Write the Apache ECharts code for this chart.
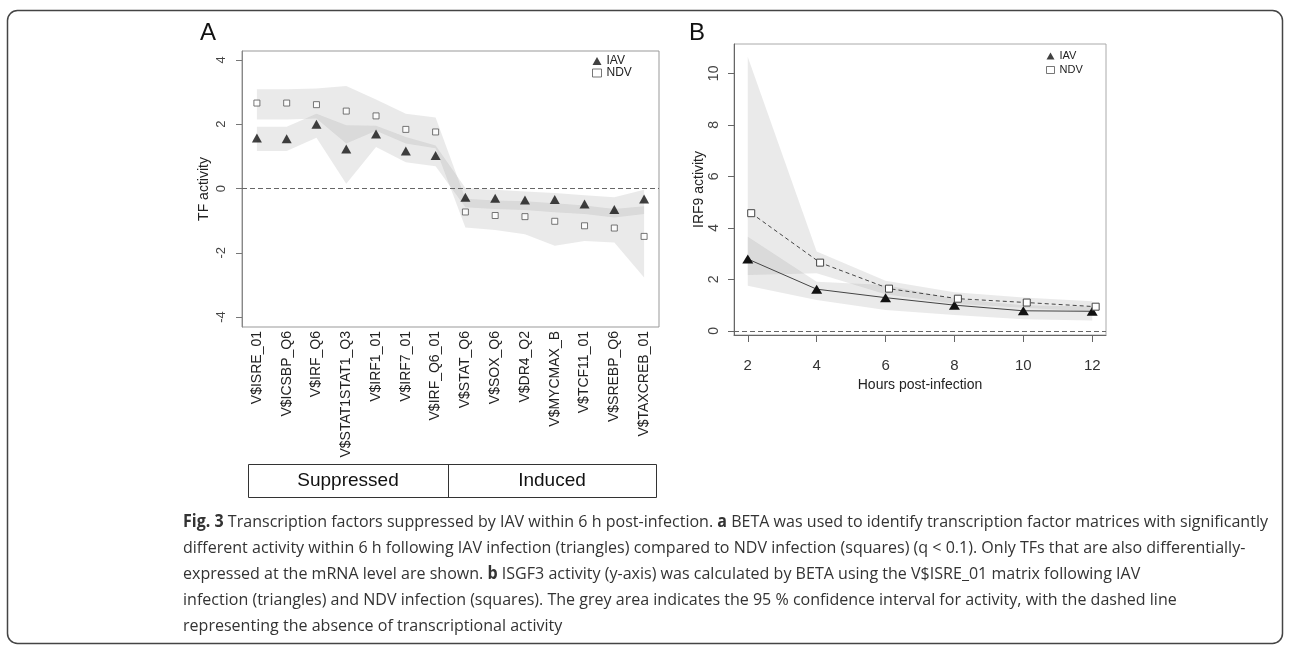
<!DOCTYPE html>
<html>
<head>
<meta charset="utf-8">
<script src="https://cdn.jsdelivr.net/npm/echarts@6/dist/echarts.min.js"></script>
<style>
html, body { margin: 0; padding: 0; background: #fff; }
#main { width: 1290px; height: 647px; }
</style>
</head>
<body>
<div id="main"></div>
<script>
// panel A: TF activity per matrix
var tfNames = ['V$ISRE_01', 'V$ICSBP_Q6', 'V$IRF_Q6', 'V$STAT1STAT1_Q3', 'V$IRF1_01', 'V$IRF7_01', 'V$IRF_Q6_01',
  'V$STAT_Q6', 'V$SOX_Q6', 'V$DR4_Q2', 'V$MYCMAX_B', 'V$TCF11_01', 'V$SREBP_Q6', 'V$TAXCREB_01']
var iavA = [1.57, 1.55, 2.0, 1.23, 1.70, 1.17, 1.03, -0.27, -0.30, -0.36, -0.34, -0.48, -0.65, -0.33]
var ndvA = [2.66, 2.66, 2.61, 2.41, 2.26, 1.84, 1.76, -0.73, -0.84, -0.875, -1.02, -1.16, -1.23, -1.49]
var iavAHigh = [1.92, 1.92, 2.33, 1.97, 1.95, 1.60, 1.34, 0.02, -0.04, -0.09, -0.14, -0.21, -0.27, -0.04]
var iavALow = [1.17, 1.17, 1.58, 0.15, 1.29, 0.82, 0.69, -0.58, -0.64, -0.67, -0.74, -0.79, -0.90, -0.79]
var ndvAHigh = [3.09, 3.09, 3.11, 3.19, 2.77, 2.33, 2.21, -0.32, -0.375, -0.40, -0.46, -0.53, -0.64, -0.55]
var ndvALow = [2.15, 2.15, 2.18, 1.40, 1.80, 1.40, 1.25, -1.21, -1.29, -1.42, -1.78, -1.63, -1.68, -2.77]
var tickA = [-4, -2, 0, 2, 4]

// panel B: IRF9 activity over time
var hours = [2, 4, 6, 8, 10, 12]
var iavB = [2.79, 1.62, 1.29, 1.00, 0.78, 0.76]
var ndvB = [4.57, 2.65, 1.64, 1.25, 1.10, 0.94]
var iavBHigh = [3.66, 1.91, 1.78, 1.25, 1.00, 0.95]
var iavBLow = [1.75, 1.20, 0.81, 0.62, 0.45, 0.40]
var ndvBHigh = [10.64, 3.08, 1.95, 1.50, 1.30, 1.15]
var ndvBLow = [2.17, 2.24, 1.42, 1.05, 0.90, 0.75]
var ndvShift = 0.1 // NDV points drawn slightly right of the hour
var tickBx = [2, 4, 6, 8, 10, 12]
var tickBy = [0, 2, 4, 6, 8, 10]

var captionLines = [
  '{b|Fig. 3} Transcription factors suppressed by IAV within 6 h post-infection. {b|a} BETA was used to identify transcription factor matrices with significantly',
  'different activity within 6 h following IAV infection (triangles) compared to NDV infection (squares) (q < 0.1). Only TFs that are also differentially-',
  'expressed at the mRNA level are shown. {b|b} ISGF3 activity (y-axis) was calculated by BETA using the V$ISRE_01 matrix following IAV',
  'infection (triangles) and NDV infection (squares). The grey area indicates the 95 % confidence interval for activity, with the dashed line',
  'representing the absence of transcriptional activity'
]

var FONT = 'Liberation Sans, Arial, sans-serif'
var CAP_FONT = 'Open Sans, Noto Sans, sans-serif'
var bandColor = 'rgba(150,150,150,0.2)'

function pairs (xs, ys, shift) {
  return xs.map(function (x, i) { return [x + (shift || 0), ys[i]] })
}

// confidence band as one polygon, drawn through the axis scales
function band (xi, yi, xs, lo, hi) {
  return {
    type: 'custom', xAxisIndex: xi, yAxisIndex: yi, silent: true, z: 1,
    data: xs.map(function (x, i) { return [x, lo[i], hi[i]] }),
    encode: { x: 0, y: [1, 2] },
    renderItem: function (params, api) {
      if (params.dataIndex !== 0) return null
      var pts = []
      for (var i = 0; i < xs.length; i++) pts.push(api.coord([xs[i], hi[i]]))
      for (var j = xs.length - 1; j >= 0; j--) pts.push(api.coord([xs[j], lo[j]]))
      return { type: 'polygon', shape: { points: pts }, style: { fill: bandColor } }
    }
  }
}

// fit the caption width like the original (condensed face)
function captionScale () {
  var ctx = document.createElement('canvas').getContext('2d')
  var parts = captionLines[0].split(/(\{b\|[^}]*\})/)
  var w = 0
  parts.forEach(function (p) {
    var m = p.match(/^\{b\|([^}]*)\}$/)
    ctx.font = (m ? 'bold ' : '') + '17px ' + CAP_FONT
    w += ctx.measureText(m ? m[1] : p).width
  })
  return 1085 / w
}

var chart = echarts.init(document.getElementById('main'))
var capScale = captionScale()
var idx = tfNames.map(function (n, i) { return i })

var graphics = [
  { type: 'rect', shape: { x: 7.5, y: 10.5, width: 1275, height: 633, r: 10 }, style: { fill: 'none', stroke: '#444', lineWidth: 1.5 }, z: 0 },
  { type: 'text', x: 208, y: 33, style: { text: 'A', font: '24px ' + FONT, fill: '#111', textAlign: 'center', textVerticalAlign: 'middle' } },
  { type: 'text', x: 697, y: 33, style: { text: 'B', font: '24px ' + FONT, fill: '#111', textAlign: 'center', textVerticalAlign: 'middle' } },
  { type: 'rect', shape: { x: 248.5, y: 464.5, width: 408, height: 33 }, style: { fill: 'none', stroke: '#333', lineWidth: 1 } },
  { type: 'line', shape: { x1: 448.5, y1: 464.5, x2: 448.5, y2: 497.5 }, style: { stroke: '#333', lineWidth: 1 } },
  { type: 'text', x: 348, y: 481, style: { text: 'Suppressed', font: '19px ' + FONT, fill: '#111', textAlign: 'center', textVerticalAlign: 'middle' } },
  { type: 'text', x: 552, y: 481, style: { text: 'Induced', font: '19px ' + FONT, fill: '#111', textAlign: 'center', textVerticalAlign: 'middle' } }
]
captionLines.forEach(function (t, i) {
  graphics.push({
    type: 'text', x: 183, y: 522 + i * 26, scaleX: capScale,
    style: {
      text: t, font: '17px ' + CAP_FONT, fill: '#333', textAlign: 'left', textVerticalAlign: 'middle',
      rich: { b: { fontWeight: 'bold', fontSize: 17, fontFamily: CAP_FONT, fill: '#333' } }
    }
  })
})

var zeroLine = {
  silent: true, symbol: 'none', label: { show: false },
  lineStyle: { type: [5, 3], color: '#666', width: 1 },
  data: [{ yAxis: 0 }]
}

var series = [
  band(0, 0, idx, ndvALow, ndvAHigh),
  band(0, 0, idx, iavALow, iavAHigh),
  band(1, 1, hours, ndvBLow, ndvBHigh),
  band(1, 1, hours, iavBLow, iavBHigh),
  {
    type: 'scatter', name: 'IAV', xAxisIndex: 0, yAxisIndex: 0, data: iavA,
    symbol: 'triangle', symbolSize: [10, 9], itemStyle: { color: '#111' }, z: 3, markLine: zeroLine
  },
  {
    type: 'scatter', name: 'NDV', xAxisIndex: 0, yAxisIndex: 0, data: ndvA,
    symbol: 'rect', symbolSize: 6, itemStyle: { color: '#fff', borderColor: '#555', borderWidth: 1 }, z: 3
  },
  {
    type: 'line', name: 'IAV', xAxisIndex: 1, yAxisIndex: 1, data: pairs(hours, iavB),
    symbol: 'triangle', symbolSize: [11, 9], itemStyle: { color: '#111' },
    lineStyle: { color: '#444', width: 1 }, z: 3, markLine: zeroLine
  },
  {
    type: 'line', name: 'NDV', xAxisIndex: 1, yAxisIndex: 1, data: pairs(hours, ndvB, ndvShift),
    symbol: 'rect', symbolSize: 7, itemStyle: { color: '#fff', borderColor: '#444', borderWidth: 1 },
    lineStyle: { color: '#444', width: 1, type: [4, 3] }, z: 3
  }
]

var legendData = [
  { name: 'IAV', icon: 'triangle', itemStyle: { color: '#111', borderWidth: 0 } },
  { name: 'NDV', icon: 'rect', itemStyle: { color: '#fff', borderColor: '#555', borderWidth: 1 } }
]

var option = {
  animation: false,
  textStyle: { fontFamily: FONT },
  graphic: graphics,
  legend: [
    {
      left: 592, top: 55, orient: 'vertical', padding: 0, itemGap: 0, itemWidth: 9, itemHeight: 8,
      selectedMode: false, data: legendData, textStyle: { fontSize: 12, lineHeight: 12, color: '#222' }
    },
    {
      left: 1046, top: 50, orient: 'vertical', padding: 0, itemGap: 2, itemWidth: 8, itemHeight: 7,
      selectedMode: false, data: legendData, textStyle: { fontSize: 11, lineHeight: 12, color: '#222' }
    }
  ],
  grid: [
    { left: 242, top: 51, width: 417, height: 276, show: true, borderColor: '#999', borderWidth: 1, backgroundColor: 'transparent' },
    { left: 734, top: 44, width: 372, height: 291, show: true, borderColor: '#aaa', borderWidth: 1, backgroundColor: 'transparent' }
  ],
  xAxis: [
    {
      gridIndex: 0, type: 'category', data: tfNames, boundaryGap: true,
      axisLine: { show: false }, axisTick: { show: false }, splitLine: { show: false },
      axisLabel: { interval: 0, rotate: 90, margin: 4, fontSize: 14, color: '#222' }
    },
    {
      gridIndex: 1, type: 'value', min: 1.6, max: 12.4, splitLine: { show: false },
      axisLine: { show: true, onZero: false, lineStyle: { color: '#666' } },
      axisTick: { show: true, length: 7, customValues: tickBx, lineStyle: { color: '#666' } },
      axisLabel: { customValues: tickBx, margin: 23, fontSize: 15, color: '#333' },
      name: 'Hours post-infection', nameLocation: 'middle', nameGap: 43,
      nameTextStyle: { fontSize: 14, color: '#222' }
    }
  ],
  yAxis: [
    {
      gridIndex: 0, type: 'value', min: -4.31, max: 4.28, splitLine: { show: false },
      axisLine: { show: true, lineStyle: { color: '#888' } },
      axisTick: { show: true, length: 6, customValues: tickA, lineStyle: { color: '#777' } },
      axisLabel: { customValues: tickA, rotate: 90, margin: 14, fontSize: 13, color: '#444' },
      name: 'TF activity', nameLocation: 'middle', nameGap: 31, nameRotate: 90,
      nameTextStyle: { fontSize: 14, color: '#222' }
    },
    {
      gridIndex: 1, type: 'value', min: -0.16, max: 11.14, splitLine: { show: false },
      axisLine: { show: true, onZero: false, lineStyle: { color: '#666' } },
      axisTick: { show: true, length: 6, customValues: tickBy, lineStyle: { color: '#666' } },
      axisLabel: { customValues: tickBy, rotate: 90, margin: 13, fontSize: 14, color: '#444' },
      name: 'IRF9 activity', nameLocation: 'middle', nameGap: 26, nameRotate: 90,
      nameTextStyle: { fontSize: 14, color: '#222' }
    }
  ],
  series: series
}

chart.setOption(option)
</script>
</body>
</html>
